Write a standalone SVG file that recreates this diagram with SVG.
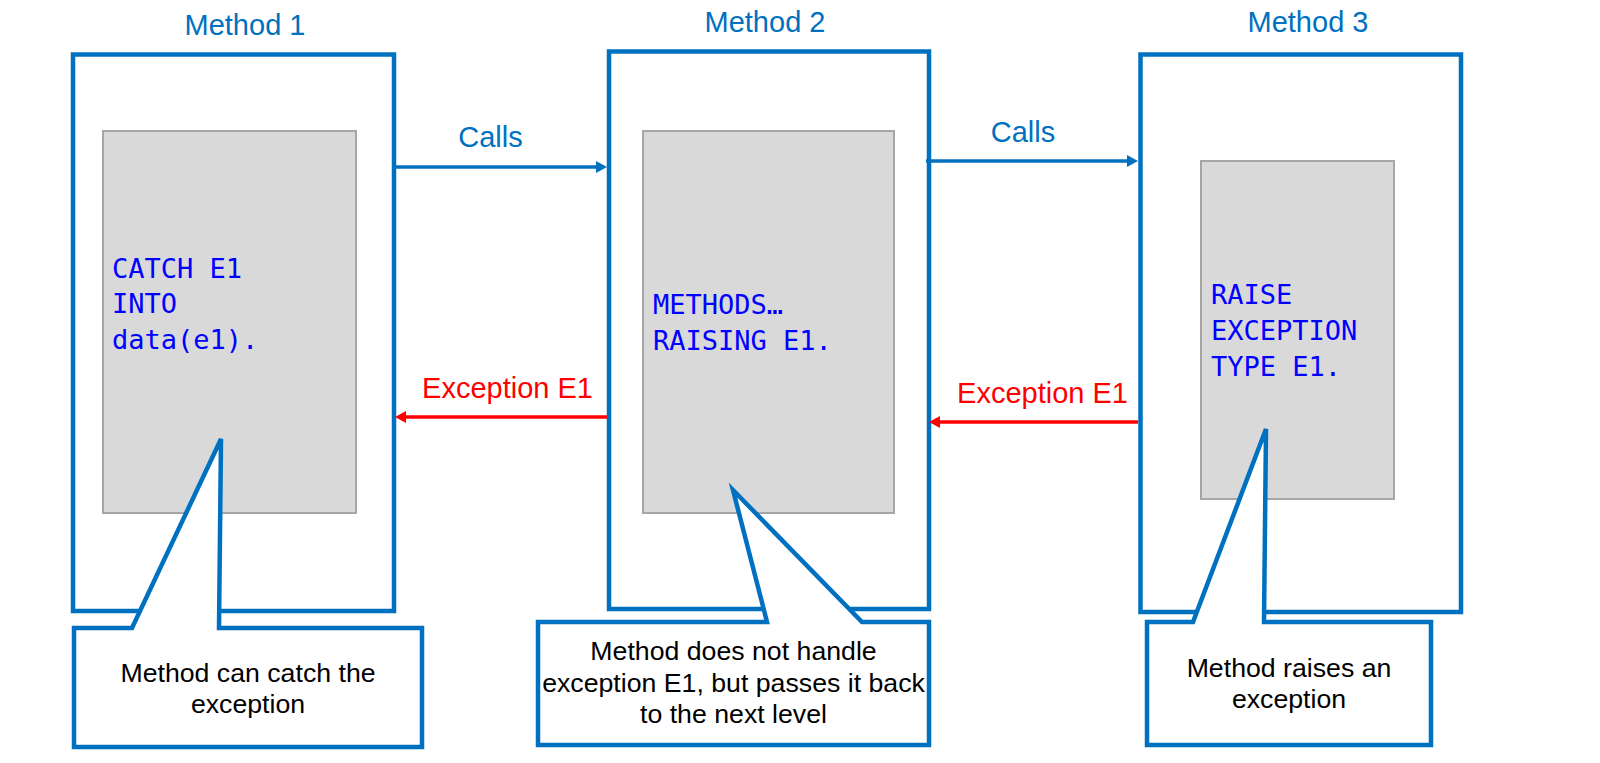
<svg xmlns="http://www.w3.org/2000/svg" width="1600" height="763" viewBox="0 0 1600 763">
<style>
.box{fill:#ffffff;stroke:#0070c0;stroke-width:4.5}
.inner{fill:#d9d9d9;stroke:#a6a6a6;stroke-width:2}
.title{font-family:"Liberation Sans",Arial,sans-serif;font-size:29px;fill:#0070c0;text-anchor:middle}
.code{font-family:"DejaVu Sans Mono","Liberation Mono",monospace;font-size:27px;fill:#0000ff}
.lbl{font-family:"Liberation Sans",Arial,sans-serif;font-size:29px;text-anchor:middle}
.call{fill:none;stroke:#0070c0;stroke-width:3.5}
.exc{fill:none;stroke:#ff0000;stroke-width:3.5}
.note{fill:#ffffff;stroke:#0070c0;stroke-width:4.5;stroke-linejoin:miter}
.ntext{font-family:"Liberation Sans",Arial,sans-serif;font-size:26.7px;fill:#000000;text-anchor:middle}
</style>
<defs>
<marker id="ab" markerUnits="userSpaceOnUse" markerWidth="12" markerHeight="12" refX="6" refY="6" orient="auto"><path d="M0,0 L11,6 L0,12 Z" fill="#0070c0"/></marker>
<marker id="ar" markerUnits="userSpaceOnUse" markerWidth="12" markerHeight="12" refX="6" refY="6" orient="auto"><path d="M0,0 L11,6 L0,12 Z" fill="#ff0000"/></marker>
</defs>
<rect width="1600" height="763" fill="#ffffff"/>
<g id="method1">
<text class="title" x="245" y="35">Method 1</text>
<rect class="box" x="73" y="54.5" width="321" height="556.5"/>
<rect class="inner" x="103" y="131" width="253" height="382"/>
<text class="code" x="112" y="278">CATCH E1</text>
<text class="code" x="112" y="313">INTO</text>
<text class="code" x="112" y="349">data(e1).</text>
</g>
<g id="method2">
<text class="title" x="765" y="32">Method 2</text>
<rect class="box" x="609" y="51.5" width="320" height="557.5"/>
<rect class="inner" x="643" y="131" width="251" height="382"/>
<text class="code" x="653" y="314">METHODS…</text>
<text class="code" x="653" y="350">RAISING E1.</text>
</g>
<g id="method3">
<text class="title" x="1308" y="32">Method 3</text>
<rect class="box" x="1140.5" y="54.5" width="320.5" height="557.5"/>
<rect class="inner" x="1201" y="161" width="193" height="338"/>
<text class="code" x="1211" y="304">RAISE</text>
<text class="code" x="1211" y="340">EXCEPTION</text>
<text class="code" x="1211" y="376">TYPE E1.</text>
</g>
<g id="connectors">
<line class="call" x1="394" y1="167" x2="602" y2="167" marker-end="url(#ab)"/>
<text class="lbl" x="490.5" y="147" fill="#0070c0">Calls</text>
<line class="call" x1="926" y1="161" x2="1133" y2="161" marker-end="url(#ab)"/>
<text class="lbl" x="1023" y="142" fill="#0070c0">Calls</text>
<line class="exc" x1="607" y1="417" x2="400" y2="417" marker-end="url(#ar)"/>
<text class="lbl" x="507.5" y="398" fill="#ff0000">Exception E1</text>
<line class="exc" x1="1138" y1="422" x2="934" y2="422" marker-end="url(#ar)"/>
<text class="lbl" x="1042.5" y="403" fill="#ff0000">Exception E1</text>
</g>
<g id="note1">
<path class="note" d="M74,628 H132 L221,439 L219,628 H422 V747 H74 Z"/>
<text class="ntext" x="248" y="682">Method can catch the</text>
<text class="ntext" x="248" y="713">exception</text>
</g>
<g id="note2">
<path class="note" d="M538,622 H767 L733,490 L862,622 H929 V745 H538 Z"/>
<text class="ntext" x="733.5" y="660">Method does not handle</text>
<text class="ntext" x="733.5" y="692">exception E1, but passes it back</text>
<text class="ntext" x="733.5" y="723">to the next level</text>
</g>
<g id="note3">
<path class="note" d="M1147,622 H1193 L1266,429 L1264,622 H1431 V745 H1147 Z"/>
<text class="ntext" x="1289" y="677">Method raises an</text>
<text class="ntext" x="1289" y="708">exception</text>
</g>
</svg>
